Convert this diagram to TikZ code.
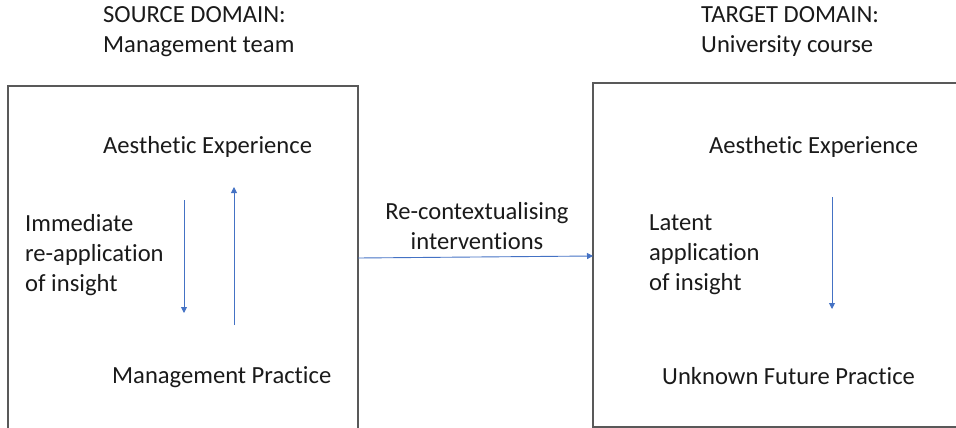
\documentclass[tikz,border=0pt]{standalone}
\usepackage{fontspec}
\setmainfont{Carlito}[Ligatures=NoCommon]
\usetikzlibrary{arrows.meta}
\definecolor{boxgray}{HTML}{595959}
\definecolor{arrowblue}{HTML}{4472C4}
\definecolor{txt}{HTML}{1A1A1A}
\begin{document}
\begin{tikzpicture}[x=1pt,y=-1pt,
  lbl/.style={anchor=west,inner sep=0pt,font=\fontsize{24.6}{30}\selectfont,text=txt,align=left},
  frame/.style={draw=boxgray,line width=1.4pt},
  flow/.style={draw=arrowblue,line width=0.9pt,-{Triangle[width=6pt,length=6pt]}}]
\useasboundingbox (0,0) rectangle (956,428);
% boxes
\draw[frame] (8,430) -- (8,86) -- (358,86) -- (358,430);
\draw[frame] (958,83) -- (593,83) -- (593,427) -- (958,427);
% headings
\node[lbl] (srch) at (103,32) {SOURCE DOMAIN:\\Management team};
\node[lbl] (tgth) at (701,32) {TARGET DOMAIN:\\University course};
% left box
\node[lbl] (lae) at (103,147) {Aesthetic Experience};
\node[lbl] (imm) at (25,255) {Immediate\\re-application\\of insight};
\node[lbl] (mp) at (112,377) {Management Practice};
% middle
\node[lbl,anchor=center,align=center] (rc) at (477,226) {Re-contextualising\\interventions};
% right box
\node[lbl] (rae) at (709,147) {Aesthetic Experience};
\node[lbl] (lat) at (649,255) {Latent\\application\\of insight};
\node[lbl] (ufp) at (662,376) {Unknown Future Practice};
% arrow coordinates
\coordinate (d1s) at (184,200);
\coordinate (d1e) at (184,313);
\coordinate (u1s) at (234,325);
\coordinate (u1e) at (234,187);
\coordinate (hs) at (358,258);
\coordinate (he) at (593,256);
\coordinate (d2s) at (832,197);
\coordinate (d2e) at (832,309);
\draw[flow] (d1s) -- (d1e);
\draw[flow] (u1s) -- (u1e);
\draw[flow] (hs) -- (he);
\draw[flow] (d2s) -- (d2e);
\end{tikzpicture}
\end{document}
